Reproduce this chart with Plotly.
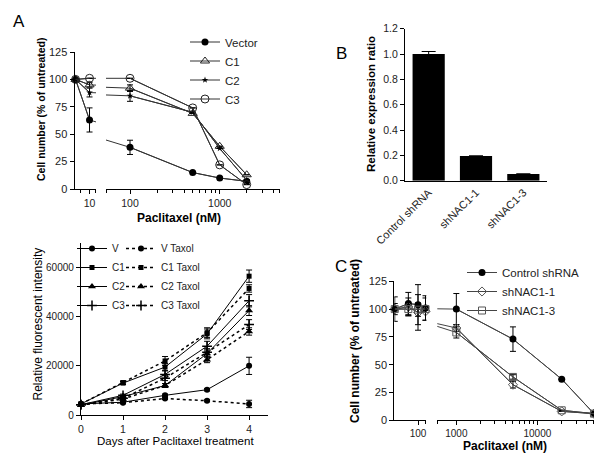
import math
import plotly.graph_objects as go

# ---------------- DATA ----------------
# Panel A (top): cell number vs paclitaxel; first position = untreated
conc_a = [7, 10, 100, 500, 1000, 2000]
vector = [100, 63, 38, 15, 10, 7]
vector_err = [0, 11, 6.5, 0, 0, 0]
c1 = [100, 95, 92, 69, 39, 13]
c1_err = [0, 2, 3, 0, 0, 0]
c2 = [100, 88, 85, 70, 37, 8]
c2_err = [0, 4, 5, 0, 0, 0]
c3 = [100, 101, 101, 74, 22, 4]
c3_err = [0, 0, 0, 0, 0, 0]

# Panel A (bottom): fluorescence over days
days = [0, 1, 2, 3, 4]
v_ctrl = [4500, 5200, 8000, 10300, 20000]
v_ctrl_err = [300, 300, 500, 500, 3500]
v_taxol = [4500, 5000, 6700, 5800, 4500]
v_taxol_err = [300, 300, 400, 400, 1500]
c1_ctrl = [4500, 13000, 19500, 33000, 56500]
c1_ctrl_err = [300, 600, 1500, 2000, 2500]
c1_taxol = [4500, 13200, 22000, 33500, 51500]
c1_taxol_err = [300, 600, 1800, 2000, 1500]
c2_ctrl = [4000, 7500, 12000, 25000, 42500]
c2_ctrl_err = [300, 500, 800, 1500, 2000]
c2_taxol = [4000, 6500, 12000, 22500, 34000]
c2_taxol_err = [300, 500, 800, 1200, 1500]
c3_ctrl = [4200, 8000, 16500, 28000, 46500]
c3_ctrl_err = [300, 500, 1500, 2000, 2500]
c3_taxol = [4200, 6800, 15000, 25500, 36800]
c3_taxol_err = [300, 500, 1000, 1500, 2000]

# Panel B: relative expression
groups_b = ["Control shRNA", "shNAC1-1", "shNAC1-3"]
expr = [1.0, 0.195, 0.053]
expr_err = [0.02, 0, 0]

# Panel C: cell number vs paclitaxel
conc_c = [50, 75, 100, 125, 1000, 5000, 20000, 50000]
ctrl_sh = [100, 105, 104, 101, 100, 73, 37, 6]
ctrl_sh_err = [11, 10, 18, 11, 14, 11, 0, 0]
sh1 = [100, 102, 97, 98, 83, 32, 8, 6]
sh1_err = [0, 8, 16, 0, 3, 3, 0, 0]
sh3 = [100, 100, 99.5, 100, 79, 39, 9, 6]
sh3_err = [5, 6, 6, 10, 5, 2, 0, 0]

# ---------------- LAYOUT HELPERS ----------------
W, H = 602, 453
def px(x):
    return x / W
def py(y):
    return 1 - y / H

FONT = "Liberation Sans, Arial, sans-serif"
TXT = "#222"

fig = go.Figure()

def err(arr, w=3):
    return dict(type="data", array=arr, visible=True, color="black", thickness=1, width=w)

def seg(xs, ys, errs, xa, ya, lo, hi, name, marker, line, legend="legend", showlegend=False):
    # connector: full series, clipped to this axis segment
    fig.add_trace(go.Scatter(x=xs, y=ys, mode="lines", line=line, xaxis=xa, yaxis=ya,
                             showlegend=False, hoverinfo="skip"))
    idx = [i for i, x in enumerate(xs) if lo <= x <= hi]
    fig.add_trace(go.Scatter(x=[xs[i] for i in idx], y=[ys[i] for i in idx],
                             error_y=err([errs[i] for i in idx]),
                             mode="lines+markers", line=line, marker=marker,
                             xaxis=xa, yaxis=ya, cliponaxis=False, name=name,
                             legend=legend, showlegend=showlegend))

# ---- Panel A top ----
lineA = dict(color="#333", width=1)
seriesA = [
    ("Vector", vector, vector_err, dict(symbol="circle", size=7, color="black")),
    ("C1", c1, c1_err, dict(symbol="triangle-up-open", size=8, color="#222", line=dict(width=1))),
    ("C2", c2, c2_err, dict(symbol="star", size=5, color="black")),
    ("C3", c3, c3_err, dict(symbol="circle-open", size=8, color="#222", line=dict(width=1))),
]
A_left = (6.85, 11.8)
A_right = (54, 4700)
for name, ys, es, mk in seriesA:
    seg(conc_a, ys, es, "x", "y", A_left[0], A_left[1], name, mk, lineA, "legend", False)
    seg(conc_a, ys, es, "x2", "y", A_right[0], A_right[1], name, mk, lineA, "legend", True)

# ---- Panel A bottom ----
seriesB = [
    ("V", v_ctrl, v_ctrl_err, "circle", 6, "solid", "legend2"),
    ("C1", c1_ctrl, c1_ctrl_err, "square", 5, "solid", "legend2"),
    ("C2", c2_ctrl, c2_ctrl_err, "triangle-up", 7, "solid", "legend2"),
    ("C3", c3_ctrl, c3_ctrl_err, "cross-thin", 7, "solid", "legend2"),
    ("V Taxol", v_taxol, v_taxol_err, "circle", 6, "dot", "legend3"),
    ("C1 Taxol", c1_taxol, c1_taxol_err, "square", 5, "dot", "legend3"),
    ("C2 Taxol", c2_taxol, c2_taxol_err, "triangle-up", 7, "dot", "legend3"),
    ("C3 Taxol", c3_taxol, c3_taxol_err, "cross-thin", 7, "dot", "legend3"),
]
for name, ys, es, sym, sz, dash, lg in seriesB:
    mk = dict(symbol=sym, size=sz, color="black", line=dict(width=1.5 if sym == "cross-thin" else 0, color="black"))
    fig.add_trace(go.Scatter(x=days, y=ys, error_y=err(es), mode="lines+markers",
                             line=dict(color="black", width=1 if dash == "solid" else 1.5, dash=dash),
                             marker=mk, name=name, xaxis="x3", yaxis="y2",
                             cliponaxis=False, legend=lg))

# ---- Panel B ----
fig.add_trace(go.Bar(x=groups_b, y=expr, error_y=err(expr_err, 7), marker=dict(color="black", line=dict(width=0)),
                     width=0.68, xaxis="x4", yaxis="y3", showlegend=False))

# ---- Panel C ----
seriesC = [
    ("Control shRNA", ctrl_sh, ctrl_sh_err, dict(symbol="circle", size=7, color="black")),
    ("shNAC1-1", sh1, sh1_err, dict(symbol="diamond-open", size=7, color="#555", line=dict(width=1))),
    ("shNAC1-3", sh3, sh3_err, dict(symbol="square-open", size=7, color="#555", line=dict(width=1))),
]
lineC = dict(color="#444", width=1)
C_left = (49.5, 128)
C_right = (582, 66500)
for name, ys, es, mk in seriesC:
    seg(conc_c, ys, es, "x5", "y4", C_left[0], C_left[1], name, mk, lineC, "legend4", False)
    seg(conc_c, ys, es, "x6", "y4", C_right[0], C_right[1], name, mk, lineC, "legend4", True)

# ---------------- AXES ----------------
def ax(**kw):
    base = dict(showline=True, linecolor="black", linewidth=1.3, ticks="outside", ticklen=4,
                tickcolor="black", tickwidth=1, showgrid=False, zeroline=False, automargin=False,
                tickfont=dict(family=FONT, size=10.5, color=TXT), fixedrange=True)
    base.update(kw)
    return base

def minor(vals):
    return dict(tickmode="array", tickvals=vals, ticks="outside", ticklen=3, tickcolor="black", tickwidth=1)

lg10 = math.log10
fig.update_layout(
    template="none",
    xaxis=ax(domain=[px(66.7), px(88)], anchor="y", type="log",
             range=[lg10(A_left[0]), lg10(A_left[1])], tickmode="array", tickvals=[10], ticktext=["10"],
             minor=minor([8, 11.6])),
    xaxis2=ax(domain=[px(98), px(272)], anchor="y", type="log",
              range=[lg10(A_right[0]), lg10(A_right[1])], tickmode="array",
              tickvals=[100, 1000], ticktext=["100", "1000"],
              minor=minor([55, 200, 300, 400, 500, 600, 700, 800, 900, 2000, 3000, 4000, 4650])),
    yaxis=ax(domain=[py(181), py(44)], anchor="x", range=[0, 125], tickmode="array",
             tickvals=[0, 25, 50, 75, 100, 125], tickfont=dict(family=FONT, size=11, color=TXT)),
    xaxis3=ax(domain=[px(73), px(260)], anchor="y2", range=[0, 4.45], tickmode="array",
              tickvals=days, tickfont=dict(family=FONT, size=10.5, color=TXT)),
    yaxis2=ax(domain=[py(407), py(235)], anchor="x3", range=[0, 70000], tickmode="array",
              tickvals=[0, 20000, 40000, 60000], tickformat="d",
              tickfont=dict(family=FONT, size=10, color=TXT)),
    xaxis4=ax(domain=[px(397), px(539)], anchor="y3", type="category", range=[-0.5, 2.5],
              ticks="", tickangle=-45, tickfont=dict(family=FONT, size=11, color=TXT)),
    yaxis3=ax(domain=[py(172.7), py(20.7)], anchor="x4", range=[0, 1.2], tickmode="array",
              tickvals=[0, 0.2, 0.4, 0.6, 0.8, 1.0, 1.2], tickformat=".1f",
              tickfont=dict(family=FONT, size=10.5, color=TXT)),
    xaxis5=ax(domain=[px(386.4), px(418.3)], anchor="y4", type="log",
              range=[lg10(C_left[0]), lg10(C_left[1])], tickmode="array",
              tickvals=[100], ticktext=["100"], minor=minor([125]),
              tickfont=dict(family=FONT, size=10, color=TXT)),
    xaxis6=ax(domain=[px(429.3), px(596)], anchor="y4", type="log",
              range=[lg10(C_right[0]), lg10(C_right[1])], tickmode="array",
              tickvals=[1000, 10000], ticktext=["1000", "10000"],
              minor=minor([590, 2000, 3000, 4000, 5000, 6000, 7000, 8000, 9000,
                           20000, 30000, 40000, 50000, 60000]),
              tickfont=dict(family=FONT, size=10, color=TXT)),
    yaxis4=ax(domain=[py(412.3), py(273.3)], anchor="x5", range=[0, 125], tickmode="array",
              tickvals=[0, 25, 50, 75, 100, 125], tickfont=dict(family=FONT, size=11, color=TXT)),
)

# ---------------- LEGENDS ----------------
def legend(x, y, size):
    return dict(x=px(x), y=py(y), xanchor="left", yanchor="top", bgcolor="rgba(0,0,0,0)",
                font=dict(family=FONT, size=size, color=TXT), tracegroupgap=0, itemwidth=30,
                traceorder="normal", borderwidth=0)

fig.update_layout(
    legend=legend(177, 19.5, 11.5),
    legend2=legend(64, 226, 10),
    legend3=legend(113, 226, 10),
    legend4=legend(454, 250, 11.5),
)

# ---------------- TEXT ----------------
def note(text, x, y, size, bold=False, angle=0):
    fig.add_annotation(text=f"<b>{text}</b>" if bold else text, x=px(x), y=py(y), xref="paper", yref="paper",
                       showarrow=False, textangle=angle, xanchor="center", yanchor="middle",
                       font=dict(family=FONT, size=size, color="black"))

note("Cell number (% of untreated)", 33, 101, 10.5, True, -90)
note("Paclitaxel (nM)", 171, 210, 12, True)
note("Relative fluorescent intensity", 29.5, 316, 12, False, -90)
note("Days after Paclitaxel treatment", 167.5, 433, 11.5)
note("Relative expression ratio", 363.5, 96.5, 11.5, True, -90)
note("Cell number (% of untreated)", 347, 333, 12, True, -90)
note("Paclitaxel (nM)", 496.5, 438, 12, True)
note("A", 11, 13, 17)
note("B", 333, 46, 17)
note("C", 333, 258, 17)

fig.update_layout(width=W, height=H, margin=dict(l=0, r=0, t=0, b=0, pad=0),
                  paper_bgcolor="white", plot_bgcolor="white",
                  font=dict(family=FONT, color=TXT))

fig.write_html("out.html")
